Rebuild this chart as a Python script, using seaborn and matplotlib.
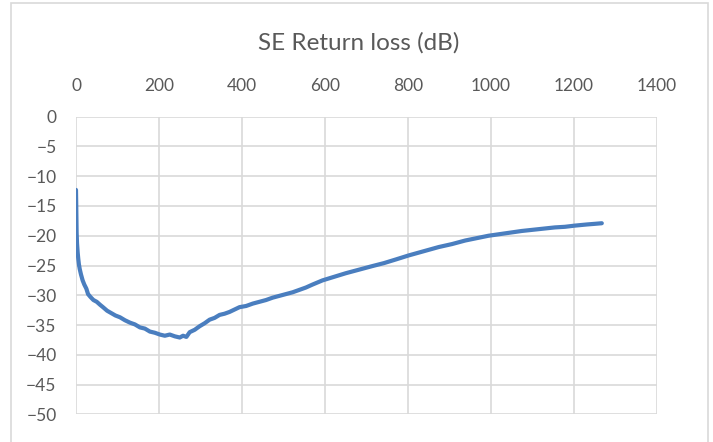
import matplotlib
matplotlib.use("Agg")
import matplotlib.pyplot as plt
import seaborn as sns
import pandas as pd
from matplotlib.patches import Rectangle

# Data
freq = [0, 0.5, 1, 1.5, 2.5, 4, 5.5, 7, 9, 12, 16, 20, 25, 29, 35, 42, 50, 58, 65, 75,
        85, 95, 106, 118, 130, 142, 154, 166, 178, 190, 202, 214, 226, 238, 250, 258,
        266, 274, 286, 298, 310, 322, 334, 346, 358, 370, 382, 394, 410, 426, 442,
        458, 474, 490, 506, 522, 538, 554, 570, 594, 622, 650, 682, 714, 742, 770,
        802, 838, 874, 906, 938, 966, 994, 1034, 1074, 1114, 1154, 1178, 1202,
        1232, 1250, 1267]
return_loss = [-12.3, -14.5, -17.0, -19.5, -21.3, -22.8, -23.9, -24.8, -25.6, -26.5,
               -27.5, -28.2, -28.9, -29.8, -30.3, -30.8, -31.1, -31.6, -32.0, -32.6,
               -33.0, -33.4, -33.7, -34.2, -34.6, -34.9, -35.4, -35.6, -36.1, -36.3,
               -36.6, -36.8, -36.6, -36.9, -37.1, -36.8, -37.0, -36.2, -35.8, -35.2,
               -34.7, -34.1, -33.8, -33.3, -33.1, -32.8, -32.4, -32.0, -31.8, -31.4,
               -31.1, -30.8, -30.4, -30.1, -29.8, -29.5, -29.1, -28.7, -28.2, -27.5,
               -26.9, -26.3, -25.7, -25.1, -24.6, -24.0, -23.3, -22.6, -21.9, -21.4,
               -20.8, -20.4, -20.0, -19.6, -19.2, -18.9, -18.6, -18.5, -18.3,
               -18.1, -18.0, -17.9]

x_ticks = [0, 200, 400, 600, 800, 1000, 1200, 1400]
y_ticks = [0, -5, -10, -15, -20, -25, -30, -35, -40, -45, -50]

df = pd.DataFrame({"freq": freq, "rl": return_loss})

sns.set_style("white")
plt.rcParams["font.family"] = ["Lato", "DejaVu Sans"]

fig = plt.figure(figsize=(7.13, 4.42), dpi=100)
fig.patch.set_facecolor("white")
ax = fig.add_axes([76 / 713, 1 - 414.3 / 442, (657 - 76) / 713, (414.3 - 116.7) / 442])

sns.lineplot(data=df, x="freq", y="rl", ax=ax, color="#4A7EBF", linewidth=3.0,
             sort=False, estimator=None)

ax.set_xlim(0, 1400)
ax.set_ylim(-50, 0)
ax.set_xticks(x_ticks)
ax.set_yticks(y_ticks)
ax.xaxis.tick_top()
ax.set_xlabel("")
ax.set_ylabel("")
grid_c = "#D9D9D9"
ax.grid(True, color=grid_c, linewidth=1.2)
ax.set_axisbelow(True)
for s in ax.spines.values():
    s.set_visible(False)
ax.tick_params(axis="both", length=0, labelsize=12.5, colors="#595959")
ax.tick_params(axis="x", pad=16)
ax.tick_params(axis="y", pad=14)

fig.text(359 / 713, 1 - 43 / 442, "SE Return loss (dB)", ha="center", va="center",
         fontsize=17.5, color="#595959")

fig.patches.append(Rectangle((11 / 713, -0.05), (708 - 11) / 713, 1 - 3 / 442 + 0.05,
                             transform=fig.transFigure, fill=False,
                             edgecolor=grid_c, linewidth=1.2))

fig.savefig("out.png", dpi=100)
